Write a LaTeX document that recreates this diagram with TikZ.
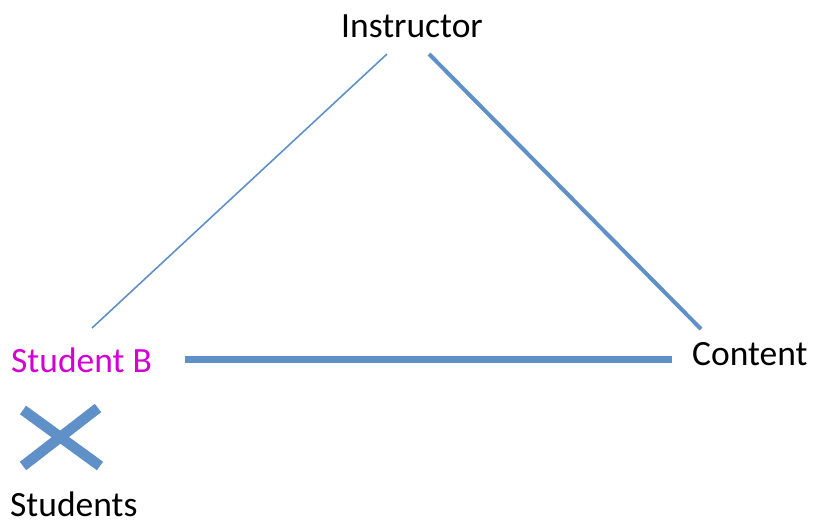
\documentclass[tikz,border=0pt]{standalone}
\usepackage{fontspec}
\setmainfont{Carlito}
\usetikzlibrary{calc}
\definecolor{tieblue}{RGB}{96,144,200}
\definecolor{studmag}{RGB}{210,0,210}
\begin{document}
\begin{tikzpicture}[x=1pt,y=-1pt,line join=round,
  lbl/.style={inner sep=0pt,font=\fontsize{35.5}{42}\selectfont},
  tie/.style={draw=tieblue,line cap=butt}]

  % ---- the frame of the picture --------------------------------------------
  \useasboundingbox (0,0) rectangle (813,525);

  % ---- the three corners and the crossed out group ------------------------
  \node[lbl,anchor=base] (instr) at (412,37) {Instructor};
  \node[lbl,anchor=base west,text=studmag] (studB) at (11,372.7) {Student B};
  \node[lbl,anchor=base west] (content) at (692,365) {Content};
  \node[lbl,anchor=base west] (studs) at (10,516) {Students};

  % ---- the sides of the triangle, each one of its own weight ---------------
  \draw[tie,line width=1.6pt] ($(instr.base)+(-25,17)$) -- ($(studB.base west)+(81,-44.7)$);
  \draw[tie,line width=4pt] ($(instr.base)+(17,17)$) -- ($(content.base west)+(9,-36)$);
  \draw[tie,line width=7pt] ($(studB.base west)+(174,-13.7)$) -- ($(content.base west)+(-20,-6)$);

  % ---- the cross over the students -----------------------------------------
  \draw[tie,line width=10.5pt]
    ($(studs.base west)+(13,-106)$) -- ($(studs.base west)+(90,-50)$)
    ($(studs.base west)+(13,-50)$) -- ($(studs.base west)+(88,-108)$);

\end{tikzpicture}
\end{document}
